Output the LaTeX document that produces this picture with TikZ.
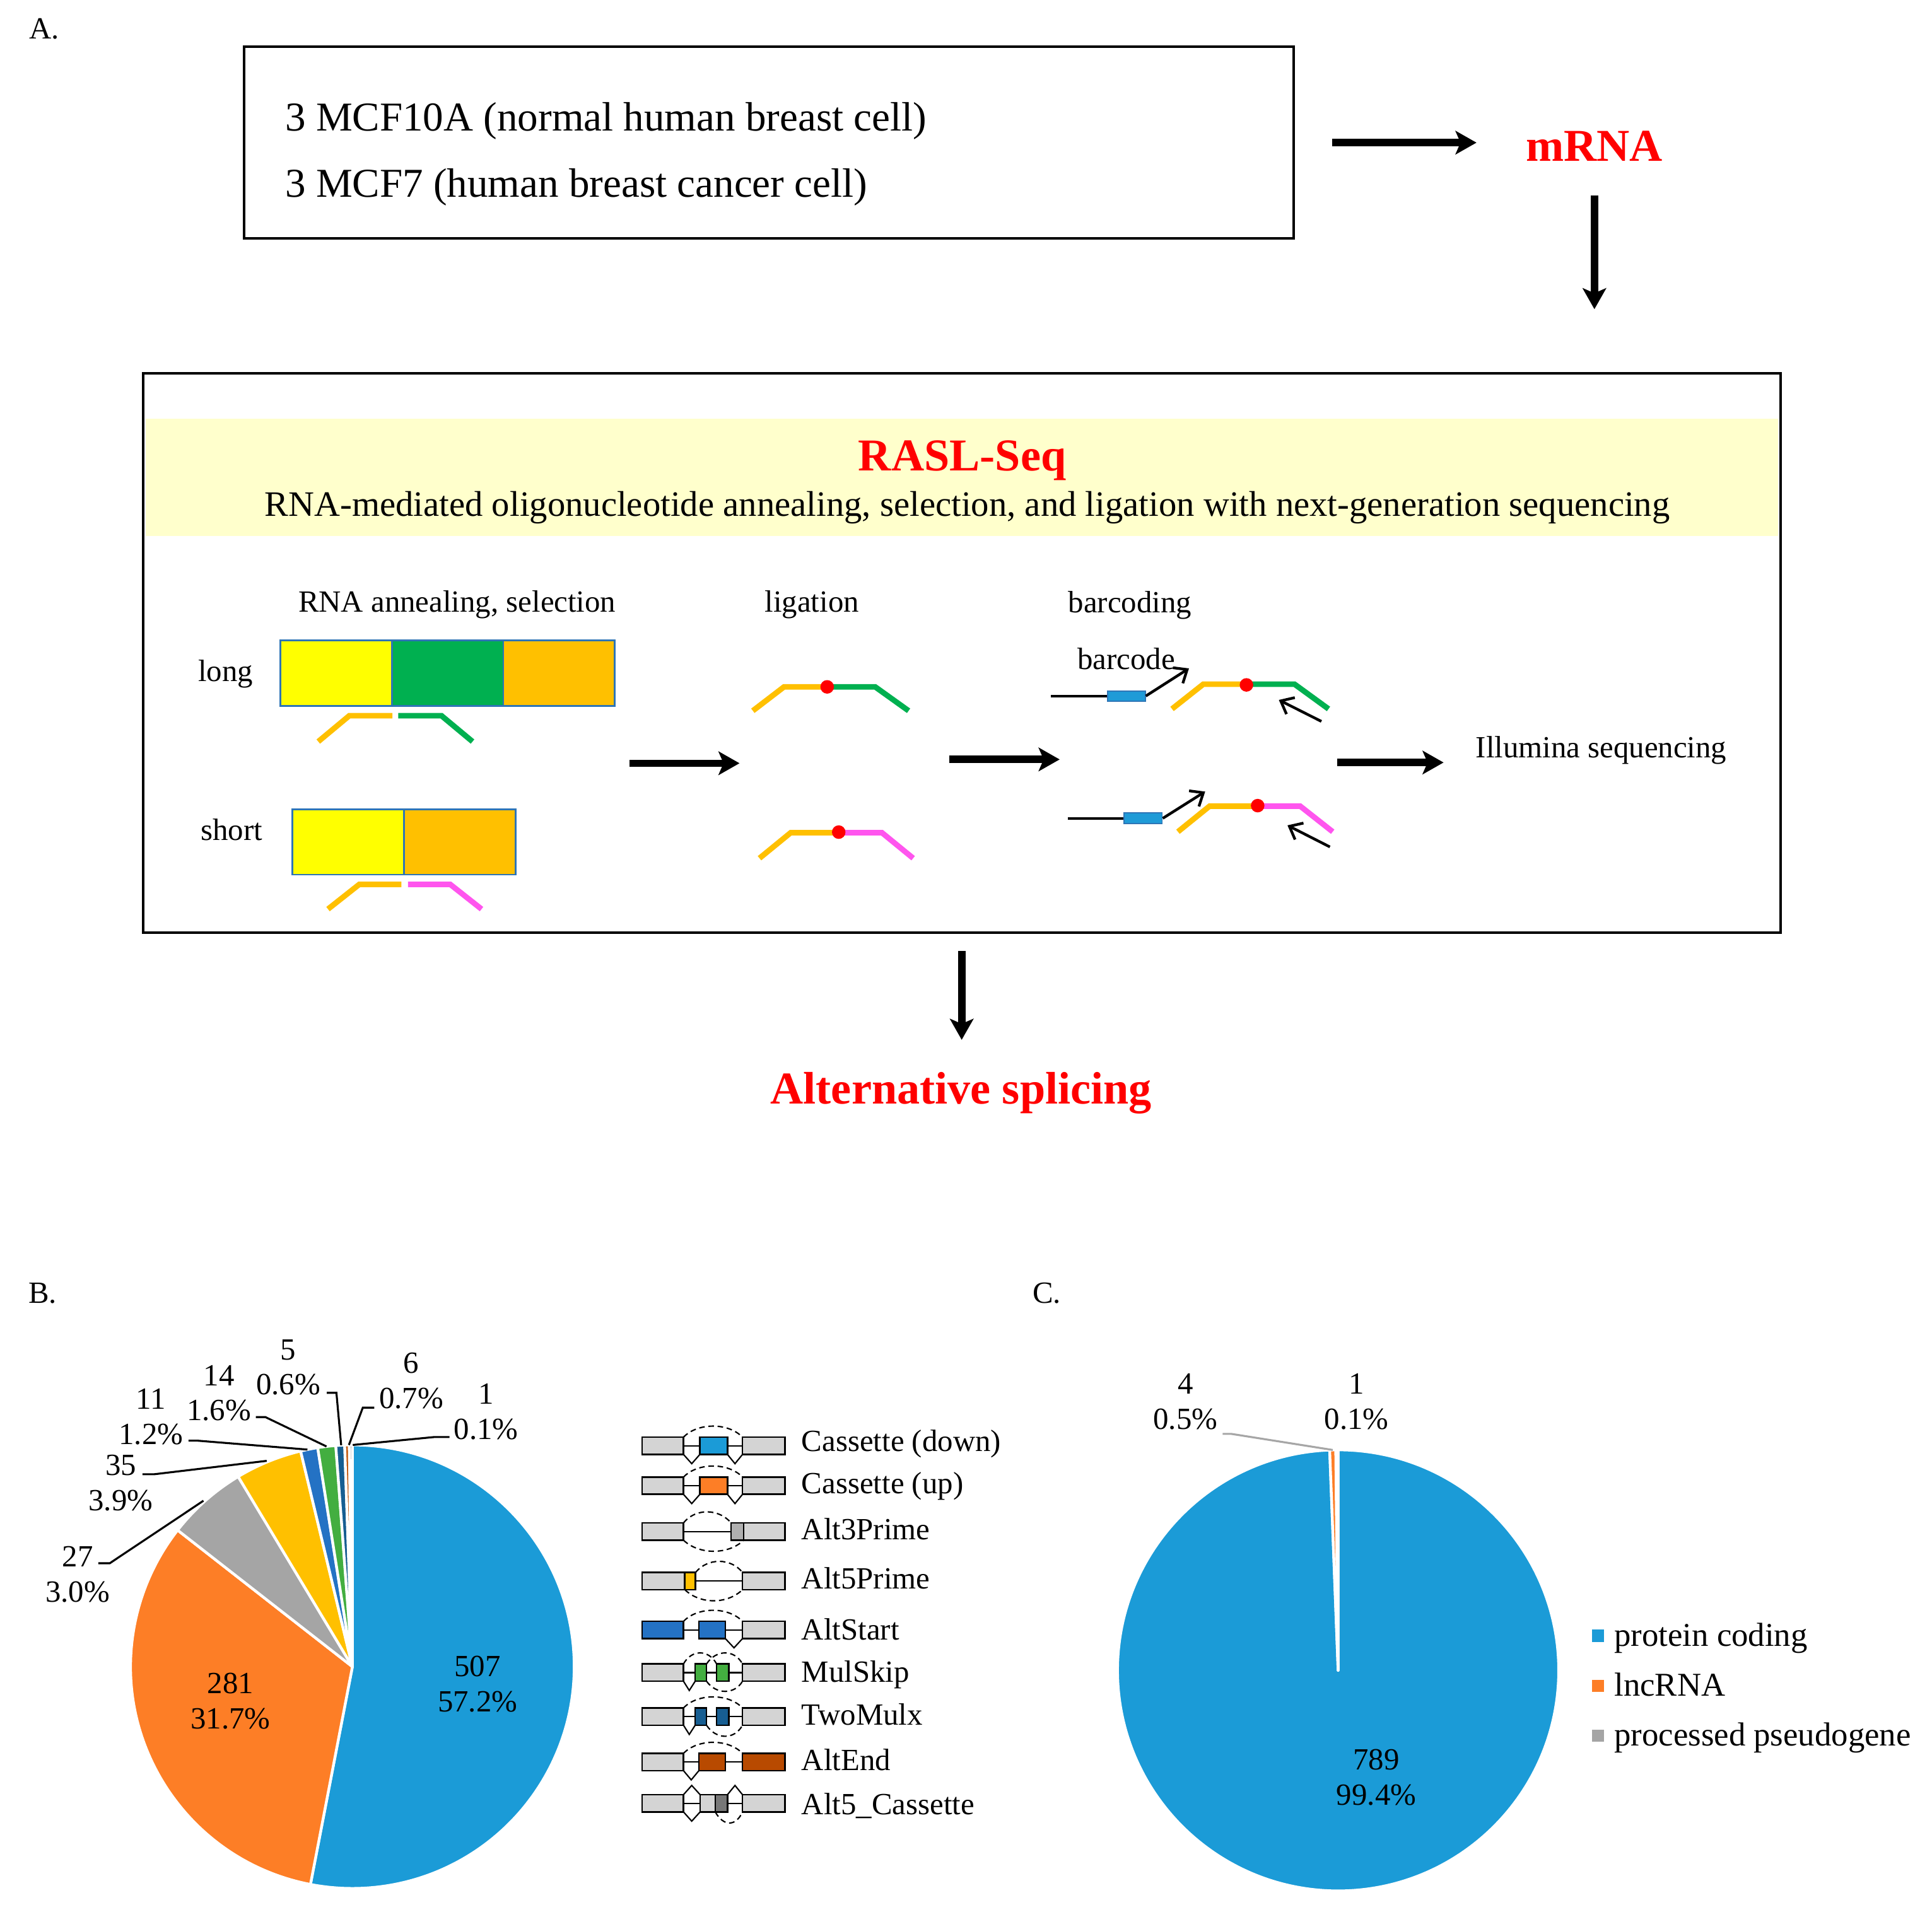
\documentclass[tikz,border=0pt]{standalone}
\usepackage{fontspec}
\setmainfont{Liberation Serif}
\usetikzlibrary{arrows.meta}

\definecolor{rnayellow}{HTML}{FFFF00}
\definecolor{rnagreen}{HTML}{00B050}
\definecolor{rnaorange}{HTML}{FFC000}
\definecolor{rnapink}{HTML}{FF55EE}
\definecolor{edgeblue}{HTML}{2E75B6}
\definecolor{barblue}{HTML}{1F9BD7}
\definecolor{bandyellow}{HTML}{FFFFCC}
\definecolor{pieblue}{HTML}{1B9BD7}
\definecolor{pieorange}{HTML}{FD7E26}
\definecolor{piegray}{HTML}{A5A5A5}
\definecolor{pieyellow}{HTML}{FFC000}
\definecolor{piemid}{HTML}{2472C4}
\definecolor{piegreen}{HTML}{43AE40}
\definecolor{pienavy}{HTML}{175E92}
\definecolor{piebrown}{HTML}{C55A11}
\definecolor{piedark}{HTML}{7A7A7A}
\definecolor{exongray}{HTML}{D4D4D4}
\definecolor{altgray}{HTML}{B0B0B0}
\definecolor{altbrown}{HTML}{B84A00}
\definecolor{altdark}{HTML}{777777}
\definecolor{leadergray}{HTML}{A6A6A6}

\begin{document}
\begin{tikzpicture}[x=1pt, y=-1pt, inner sep=0pt,
    txt/.style={font=\fontsize{25}{28.5}\selectfont},
    cellstxt/.style={font=\fontsize{33.3}{40}\selectfont},
    subtxt/.style={font=\fontsize{29}{34}\selectfont},
    legtxt/.style={font=\fontsize{27}{32}\selectfont},
    redtitle/.style={font=\fontsize{37}{44}\selectfont\bfseries, text=red},
    flow/.style={line width=6pt, -{Stealth[length=17pt, width=19pt, inset=4pt]}},
    primer/.style={line width=2.2pt, -{Straight Barb[length=9pt, width=15pt]}},
    probe/.style={line width=4.5pt},
    slice/.style={draw=white, line width=2.2pt, line join=round},
    leader/.style={line width=1.6pt},
    exon/.style={draw=black, line width=1.3pt, fill=exongray},
    junction/.style={line width=1.1pt},
    skipjunction/.style={line width=1.1pt, dash pattern=on 4.5pt off 3pt}]
    \useasboundingbox (0,0) rectangle (1568,1556);

    % Panel A: samples
    \node[txt, anchor=base west] (labA) at (23.5,31.6) {A.};
    \node[draw, line width=2pt, minimum width=852pt, minimum height=155.6pt] (cells) at (624,115.8) {};
    \node[cellstxt, anchor=base west] (mcf10a) at (231.3,106.2) {3 MCF10A (normal human breast cell)};
    \node[cellstxt, anchor=base west] (mcf7) at (231.3,160.1) {3 MCF7 (human breast cancer cell)};
    \node[redtitle, anchor=base] (mrna) at (1294,130.6) {mRNA};

    % RASL-Seq box
    \node[draw, line width=2pt, minimum width=1329pt, minimum height=454pt] (rasl) at (780.5,530) {};
    \fill[bandyellow] (118,340) rectangle (1443,435);
    \node[redtitle, anchor=base] (raslseq) at (781,382) {RASL-Seq};
    \node[subtxt, anchor=base] (raslfull) at (785,419) {RNA-mediated oligonucleotide annealing, selection, and ligation with next-generation sequencing};

    \draw[flow, shorten <=30pt, shorten >=40pt] (cells.east) -- (cells.east -| mrna.west);
    \draw[flow, shorten <=28pt, shorten >=51pt] (mrna.south) -- (mrna.south |- rasl.north);

    % Step titles
    \node[txt, anchor=base] (annealing) at (371,496.7) {RNA annealing, selection};
    \node[txt, anchor=base] (ligation) at (659,496.7) {ligation};
    \node[txt, anchor=base] (barcoding) at (917,497.5) {barcoding};
    \node[txt, anchor=base] (longlab) at (183,553) {long};
    \node[txt, anchor=base] (shortlab) at (188,682) {short};

    % long and short transcripts with probes
    \foreach \x/\c in {227.5/rnayellow, 318/rnagreen, 408.5/rnaorange}
        \filldraw[fill=\c, draw=edgeblue, line width=1.5pt] (\x,520) rectangle ++(90.5,53);
    \foreach \x/\c in {237.5/rnayellow, 328/rnaorange}
        \filldraw[fill=\c, draw=edgeblue, line width=1.5pt] (\x,657) rectangle ++(90.5,53);
    \draw[probe, rnaorange] (258.3,602) -- (283.5,581) -- (318.5,581);
    \draw[probe, rnagreen] (323.2,581) -- (358.3,581) -- (383.5,602);
    \draw[probe, rnaorange] (266.2,738) -- (291.5,718) -- (325.8,718);
    \draw[probe, rnapink] (331.2,718) -- (365.5,718) -- (390.8,738);

    % Ligated probes
    \draw[probe, rnaorange] (611,577) -- (636.3,557.6) -- (671.3,557.6);
    \draw[probe, rnagreen] (671.3,557.6) -- (710.3,557.6) -- (737.4,577);
    \fill[red] (671.3,557.6) circle (5.5);
    \draw[probe, rnaorange] (616.4,696.7) -- (641.7,676) -- (680.7,676);
    \draw[probe, rnapink] (680.7,676) -- (715.8,676) -- (741.1,696.7);
    \fill[red] (680.7,675.5) circle (5.5);

    % Barcoding
    \node[txt, anchor=base] (barcode) at (914,543.4) {barcode};
    \node[draw=edgeblue, fill=barblue, line width=1pt, minimum width=30.5pt, minimum height=8.3pt] (tagA) at (914.2,565) {};
    \draw[line width=2.2pt] (tagA.west) -- ++(-45.5,0);
    \draw[primer] (tagA.east) -- ++(35,-22.4);
    \draw[probe, rnaorange] (951.2,575.5) -- (976.6,555.4) -- (1011.6,555.4);
    \draw[probe, rnagreen] (1011.6,555.4) -- (1050.6,555.4) -- (1078.2,575.5);
    \fill[red] (1011.6,556) circle (5.5);
    \draw[primer] (1072.4,585.6) -- (1037.9,568.2);
    \node[draw=edgeblue, fill=barblue, line width=1pt, minimum width=31pt, minimum height=8.7pt] (tagB) at (927.7,664.3) {};
    \draw[line width=2.2pt] (tagB.west) -- ++(-45,0);
    \draw[primer] (tagB.east) -- ++(34.4,-21.7);
    \draw[probe, rnaorange] (956,675.2) -- (981.7,654.4) -- (1020.7,654.4);
    \draw[probe, rnapink] (1020.7,654.4) -- (1055.2,654.4) -- (1081.6,675.2);
    \fill[red] (1020.7,654) circle (5.5);
    \draw[primer] (1079.3,687.5) -- (1044.9,670);

    % Flow inside the box
    \coordinate (annealOut) at (511,619.6);
    \coordinate (ligateIn) at (600.2,619.6);
    \coordinate (ligateOut) at (770.3,616.5);
    \coordinate (barcodeIn) at (860,616.5);
    \coordinate (barcodeOut) at (1085,619);
    \node[txt, anchor=base] (illumina) at (1299.5,615) {Illumina sequencing};
    \draw[flow] (annealOut) -- (ligateIn);
    \draw[flow] (ligateOut) -- (barcodeIn);
    \draw[flow, shorten >=26pt] (barcodeOut) -- (barcodeOut -| illumina.west);

    \node[redtitle, anchor=base] (altsplice) at (780,896) {Alternative splicing};
    \draw[flow, shorten <=14pt, shorten >=26pt] (rasl.south) -- (rasl.south |- altsplice.north);

    % Panel B: event types
    \node[txt, anchor=base west] (labB) at (23,1058) {B.};
    \begin{scope}[shift={(286,1353)}, y=1pt]
        \foreach \a/\b/\c in {90/-100.9/pieblue, -100.9/-218/pieorange, 142/121/piegray, 121/103.5/pieyellow, 103.5/99/piemid, 99/94.3/piegreen, 94.3/92/pienavy, 92/90.8/piebrown, 90.8/90/piedark}
            \filldraw[slice, fill=\c] (0,0) -- (\a:180) arc[start angle=\a, end angle=\b, radius=180] -- cycle;
        \coordinate (s27) at (131.9:181);
        \coordinate (s35) at (112.6:181);
        \coordinate (s11) at (101.7:180);
        \coordinate (s14) at (96.7:180);
        \coordinate (s5) at (92.9:180);
        \coordinate (s6) at (90.9:180);
        \coordinate (s1) at (89.9:180);
    \end{scope}
    \node[txt, align=center] (lab507) at (387.6,1367) {507\\57.2\%};
    \node[txt, align=center] (lab281) at (187,1381) {281\\31.7\%};
    \node[txt, align=center] (lab27) at (63,1278) {27\\3.0\%};
    \node[txt, align=center] (lab35) at (98,1204) {35\\3.9\%};
    \node[txt, align=center] (lab11) at (122.5,1150) {11\\1.2\%};
    \node[txt, align=center] (lab14) at (177.7,1131) {14\\1.6\%};
    \node[txt, align=center] (lab5) at (234,1110) {5\\0.6\%};
    \node[txt, align=center] (lab6) at (333.7,1121) {6\\0.7\%};
    \node[txt, align=center] (lab1) at (394.5,1146) {1\\0.1\%};
    \draw[leader] ([shift={(-9.5,-9)}]lab27.east) -- ++(9.4,0) -- (s27);
    \draw[leader] ([shift={(-8.6,-7.2)}]lab35.east) -- ++(9.3,0) -- (s35);
    \draw[leader] ([shift={(4.3,19.5)}]lab11.east) -- ++(7,0) -- (s11);
    \draw[leader] ([shift={(3.7,19.4)}]lab14.east) -- ++(7.8,0) -- (s14);
    \draw[leader] ([shift={(5,20.7)}]lab5.east) -- ++(7.8,0) -- (s5);
    \draw[leader] ([shift={(-3.7,21.7)}]lab6.west) -- ++(-9.3,0) -- (s6);
    \draw[leader] ([shift={(-3.5,20.6)}]lab1.west) -- ++(-12.6,0) -- (s1);

    % Legend B
    \foreach \y/\t [count=\i] in {1178.1/Cassette (down), 1212.7/Cassette (up), 1249.6/Alt3Prime, 1289.8/Alt5Prime, 1331/AltStart, 1365.6/MulSkip, 1400.2/TwoMulx, 1437.1/AltEnd, 1472.8/Alt5\_Cassette}
        \node[txt, anchor=base west] (event\i) at (650.4,\y) {\t};
    % Cassette (down)
    \begin{scope}[shift={(521.2,1173.7)}]
        \draw[junction] (33.5,0) -- (81.4,0);
        \draw[exon] (0,-7) rectangle (33.5,7);
        \draw[exon, fill=pieblue] (46.8,-7) rectangle (69.2,7);
        \draw[exon] (81.4,-7) rectangle (116,7);
        \draw[skipjunction] (33.5,-7) .. controls (45,-19) and (70,-19) .. (81.4,-7);
        \draw[junction] (33.5,7) -- (40.2,14.5) -- (46.8,7) (69.2,7) -- (75.3,14.5) -- (81.4,7);
    \end{scope}
    % Cassette (up)
    \begin{scope}[shift={(521.2,1206.1)}]
        \draw[junction] (33.5,0) -- (81.4,0);
        \draw[exon] (0,-7) rectangle (33.5,7);
        \draw[exon, fill=pieorange] (46.8,-7) rectangle (69.2,7);
        \draw[exon] (81.4,-7) rectangle (116,7);
        \draw[skipjunction] (33.5,-7) .. controls (45,-19) and (70,-19) .. (81.4,-7);
        \draw[junction] (33.5,7) -- (40.2,14.5) -- (46.8,7) (69.2,7) -- (75.3,14.5) -- (81.4,7);
    \end{scope}
    % Alt3Prime
    \begin{scope}[shift={(521.2,1243.3)}]
        \draw[junction] (33.5,0) -- (72.2,0);
        \draw[exon] (0,-7) rectangle (33.5,7);
        \draw[exon] (72.2,-7) rectangle (116,7);
        \draw[exon, fill=altgray] (72.2,-7) rectangle (82.4,7);
        \draw[skipjunction] (33.5,-7) .. controls (43,-19) and (62,-19) .. (72.2,-7);
        \draw[skipjunction] (33.5,7) .. controls (46,19) and (70,19) .. (82.4,7);
    \end{scope}
    % Alt5Prime
    \begin{scope}[shift={(521.2,1283.5)}]
        \draw[junction] (43.3,0) -- (81.4,0);
        \draw[exon] (0,-7) rectangle (43.3,7);
        \draw[exon, fill=pieyellow] (34.6,-7) rectangle (43.3,7);
        \draw[exon] (81.4,-7) rectangle (116,7);
        \draw[skipjunction] (43.3,-7) .. controls (53,-19) and (72,-19) .. (81.4,-7);
        \draw[skipjunction] (34.6,7) .. controls (47,19) and (69,19) .. (81.4,7);
    \end{scope}
    % AltStart
    \begin{scope}[shift={(521.2,1323.2)}]
        \draw[junction] (33.5,0) -- (81.4,0);
        \draw[exon, fill=piemid] (0,-7) rectangle (33.5,7);
        \draw[exon, fill=piemid] (46,-7) rectangle (67.5,7);
        \draw[exon] (81.4,-7) rectangle (116,7);
        \draw[skipjunction] (33.5,-7) .. controls (45,-19) and (70,-19) .. (81.4,-7);
        \draw[junction] (67.5,7) -- (74.5,14.5) -- (81.4,7);
    \end{scope}
    % MulSkip
    \begin{scope}[shift={(521.2,1357.8)}]
        \draw[junction] (33.5,0) -- (81.4,0);
        \draw[exon] (0,-7) rectangle (33.5,7);
        \draw[exon, fill=piegreen] (43,-7) rectangle (52.2,7);
        \draw[exon, fill=piegreen] (60.4,-7) rectangle (70.3,7);
        \draw[exon] (81.4,-7) rectangle (116,7);
        \draw[skipjunction] (33.5,-7) .. controls (40,-19) and (54,-19) .. (60.4,-7);
        \draw[skipjunction] (52.2,-7) .. controls (60,-19) and (75,-19) .. (81.4,-7);
        \draw[junction] (33.5,7) -- (38.2,14.5) -- (43,7);
        \draw[skipjunction] (52.2,7) .. controls (60,18) and (75,18) .. (81.4,7);
    \end{scope}
    % TwoMulx
    \begin{scope}[shift={(521.2,1393.5)}]
        \draw[junction] (33.5,0) -- (81.4,0);
        \draw[exon] (0,-7) rectangle (33.5,7);
        \draw[exon, fill=pienavy] (43,-7) rectangle (52.2,7);
        \draw[exon, fill=pienavy] (60.4,-7) rectangle (70.3,7);
        \draw[exon] (81.4,-7) rectangle (116,7);
        \draw[skipjunction] (33.5,-7) .. controls (45,-19) and (70,-19) .. (81.4,-7);
        \draw[junction] (33.5,7) -- (38.2,14.5) -- (43,7);
        \draw[skipjunction] (52.2,7) .. controls (60,19) and (75,19) .. (81.4,7);
    \end{scope}
    % AltEnd
    \begin{scope}[shift={(521.2,1430.4)}]
        \draw[junction] (33.5,0) -- (81.4,0);
        \draw[exon] (0,-7) rectangle (33.5,7);
        \draw[exon, fill=altbrown] (46,-7) rectangle (67.5,7);
        \draw[exon, fill=altbrown] (81.4,-7) rectangle (116,7);
        \draw[skipjunction] (33.5,-7) .. controls (45,-19) and (70,-19) .. (81.4,-7);
        \draw[junction] (33.5,7) -- (39.8,14.5) -- (46,7);
    \end{scope}
    % Alt5_Cassette
    \begin{scope}[shift={(521.2,1463.9)}]
        \draw[junction] (33.5,0) -- (81.4,0);
        \draw[exon] (0,-7) rectangle (33.5,7);
        \draw[exon] (47,-7) rectangle (69.2,7);
        \draw[exon, fill=altdark] (59.3,-7) rectangle (69.2,7);
        \draw[exon] (81.4,-7) rectangle (116,7);
        \draw[junction] (33.5,-7) -- (40.2,-14.5) -- (47,-7) (69.2,-7) -- (75.3,-14.5) -- (81.4,-7);
        \draw[junction] (33.5,7) -- (40.2,14.5) -- (47,7);
        \draw[skipjunction] (59.3,7) .. controls (66,19) and (76,19) .. (81.4,7);
    \end{scope}

    % Panel C: gene types
    \node[txt, anchor=base west] (labC) at (838,1058) {C.};
    \begin{scope}[shift={(1086,1356)}, y=1pt]
        \foreach \a/\b/\c in {90/-267.8/pieblue, 92.2/90.6/pieorange, 90.6/90/piegray}
            \filldraw[slice, fill=\c] (0,0) -- (\a:179) arc[start angle=\a, end angle=\b, radius=179] -- cycle;
        \coordinate (sLnc) at (91.4:179);
    \end{scope}
    \node[txt, align=center] (lab4) at (962,1138) {4\\0.5\%};
    \node[txt, align=center] (labOne) at (1101,1138) {1\\0.1\%};
    \node[txt, align=center] (lab789) at (1117,1443) {789\\99.4\%};
    \draw[leader, leadergray] ([shift={(4,26)}]lab4.east) -- ++(7,0) -- (sLnc);

    % Legend C
    \foreach \y/\c/\t [count=\i] in {1328/pieblue/protein coding, 1368.5/pieorange/lncRNA, 1409/piegray/processed pseudogene} {
        \fill[\c] (1292,\y-5) rectangle ++(10,10);
        \node[legtxt, anchor=base west] (biotype\i) at (1310,\y+8.4) {\t};
    }
\end{tikzpicture}
\end{document}
